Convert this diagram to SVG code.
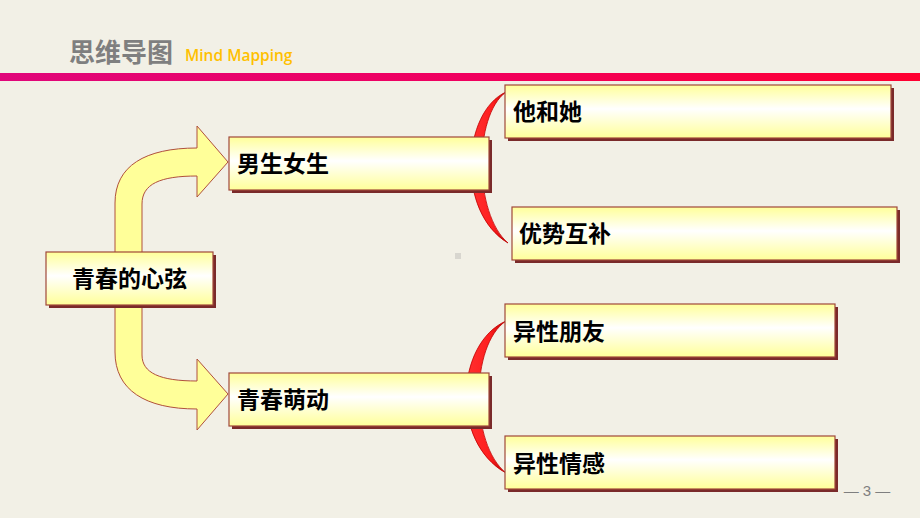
<svg xmlns="http://www.w3.org/2000/svg" width="920" height="518" viewBox="0 0 920 518">
<defs>
<linearGradient id="bar" x1="0" y1="0" x2="1" y2="0">
<stop offset="0" stop-color="#E0067A"/>
<stop offset="0.5" stop-color="#F0005F"/>
<stop offset="1" stop-color="#FF0030"/>
</linearGradient>
<linearGradient id="boxg" x1="0" y1="0" x2="0" y2="1">
<stop offset="0" stop-color="#FFFF99"/>
<stop offset="0.45" stop-color="#FFFFFF"/>
<stop offset="1" stop-color="#FFFF99"/>
</linearGradient>
<linearGradient id="redg" x1="0" y1="0" x2="1" y2="0">
<stop offset="0" stop-color="#FF3030"/>
<stop offset="0.6" stop-color="#FF1E1E"/>
<stop offset="1" stop-color="#B80000"/>
</linearGradient>
<style>
.box{fill:url(#boxg);stroke:#A0483A;stroke-width:1.2}
.shadow{fill:#7A2A2A}
.t{font-family:"Noto Sans CJK SC","Noto Sans",sans-serif;font-weight:bold;font-size:23px;fill:#000}
.arrow{fill:#FFFF99;stroke:#B0503C;stroke-width:1}
.cres{fill:url(#redg);stroke:#C00000;stroke-width:0.8}
</style>
</defs>
<rect width="920" height="518" fill="#F2F0E6"/>
<rect x="0" y="73" width="920" height="8" fill="url(#bar)"/>
<text x="69" y="62" font-family="Noto Sans CJK SC,sans-serif" font-weight="bold" font-size="26" fill="#7F7F7F">思维导图</text>
<text x="185" y="61" font-family="Open Sans,Liberation Sans,sans-serif" font-weight="600" font-size="15.5" fill="#FFC000">Mind  Mapping</text>
<rect x="455" y="253" width="6" height="6" fill="#D8D6CF"/>
<text x="867" y="496" text-anchor="middle" font-family="Liberation Sans,sans-serif" font-size="15" fill="#7F7F7F">— 3 —</text>

<g id="connectors">
<path class="arrow" d="M115,253 L115,203 C115,166 145,148 197,148 L197,126 L228,162 L197,197 L197,176 C160,176 142,184 142,204 L142,253 Z"/>
<path class="arrow" d="M115,305 L115,352 C115,390 145,409 197,409 L197,430 L228,394 L197,359 L197,381 C160,381 142,373 142,355 L142,305 Z"/>
<path class="cres" d="M506,92 C462,112 456,212 508,243 C474,214 473,116 506,92 Z"/>
<path class="cres" d="M506,321 C456,343 450,442 506,473 C470,444 470,345 506,321 Z"/>
</g>

<g id="root">
<rect class="shadow" x="49" y="255" width="167" height="53"/>
<rect class="box" x="46" y="252" width="167" height="53"/>
<text class="t" x="129.5" y="287" text-anchor="middle">青春的心弦</text>
</g>
<g id="n1">
<rect class="shadow" x="232" y="140" width="260" height="53"/>
<rect class="box" x="229" y="137" width="260" height="53"/>
<text class="t" x="237" y="172">男生女生</text>
</g>
<g id="n2">
<rect class="shadow" x="232" y="376" width="260" height="53"/>
<rect class="box" x="229" y="373" width="260" height="53"/>
<text class="t" x="237" y="408">青春萌动</text>
</g>
<g id="n11">
<rect class="shadow" x="508" y="88" width="386" height="53"/>
<rect class="box" x="505" y="85" width="386" height="53"/>
<text class="t" x="513" y="120">他和她</text>
</g>
<g id="n12">
<rect class="shadow" x="515" y="210" width="385" height="53"/>
<rect class="box" x="512" y="207" width="385" height="53"/>
<text class="t" x="519" y="242">优势互补</text>
</g>
<g id="n21">
<rect class="shadow" x="508" y="307" width="330" height="53"/>
<rect class="box" x="505" y="304" width="330" height="53"/>
<text class="t" x="513" y="340">异性朋友</text>
</g>
<g id="n22">
<rect class="shadow" x="508" y="439" width="330" height="53"/>
<rect class="box" x="505" y="436" width="330" height="53"/>
<text class="t" x="513" y="472">异性情感</text>
</g>
</svg>
